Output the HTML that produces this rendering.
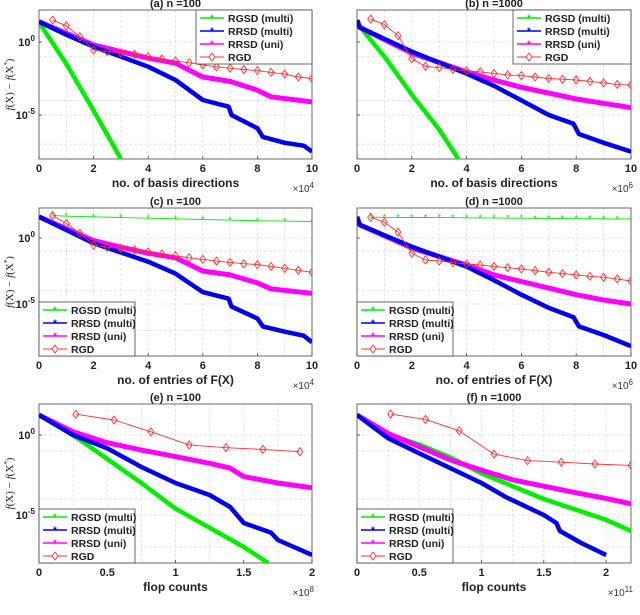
<!DOCTYPE html>
<html><head><meta charset="utf-8"><style>
html,body{margin:0;padding:0;background:#fff;}
svg{display:block;font-family:"Liberation Sans",Arial,sans-serif;}
</style></head><body>
<svg id="chart" width="640" height="615" viewBox="0 0 640 615" xmlns="http://www.w3.org/2000/svg"></svg>
<script>
// ---- data: [x, log10(f(X)-f(X*))] ----
const aGreen=[[0,1.35],[0.3,0.5],[1,-1.5],[2,-4.7],[3,-8]];
const aBlue=[[0,1.39],[1,0.5],[2,-0.32],[3,-1.0],[4,-1.69],[5,-2.6],[6,-3.97],[6.95,-4.43],[7.05,-5.0],[8,-5.9],[8.2,-6.5],[9,-6.9],[9.7,-7.1],[10,-7.5]];
const aMag=[[0,1.39],[1,0.6],[2,-0.2],[3,-0.66],[4,-1.1],[5,-1.45],[6,-2.4],[7,-2.7],[8,-3.3],[8.5,-3.75],[10,-4.1]];
const aRgd=[[0.5,1.5],[1,1.1],[1.5,0.36],[2,-0.55],[2.5,-0.66],[3,-0.75],[3.5,-0.84],[4,-1.0],[4.5,-1.16],[5,-1.3],[5.5,-1.42],[6,-1.57],[6.5,-1.7],[7,-1.8],[7.5,-1.88],[8,-1.96],[8.5,-2.08],[9,-2.2],[9.5,-2.4],[10,-2.5]];

const bGreen=[[0,1.35],[0.3,0.6],[1,-1.0],[2,-3.6],[3,-6.0],[3.7,-8]];
const bBlue=[[0,1.5],[0.1,1.0],[2,-0.66],[4,-2.17],[5,-3.0],[6,-4.0],[7,-5.0],[7.9,-5.6],[8.1,-6.3],[9,-6.9],[10,-7.5]];
const bMag=[[0,1.5],[0.1,1.0],[2,-0.76],[4,-2.05],[5,-2.6],[6,-3.1],[7,-3.5],[8,-3.9],[9,-4.2],[10,-4.5]];
const bRgd=[[0.5,1.57],[1,1.19],[1.5,0.43],[2,-1.16],[2.5,-1.67],[3,-1.75],[3.5,-1.87],[4,-1.97],[4.5,-2.05],[5,-2.15],[5.5,-2.25],[6,-2.3],[6.5,-2.4],[7,-2.5],[7.5,-2.55],[8,-2.6],[8.5,-2.7],[9,-2.8],[9.5,-2.9],[10,-2.95]];

const cGreen=[[0.5,1.7],[1,1.65],[2,1.6],[3,1.55],[4,1.5],[5,1.45],[6,1.4],[7,1.35],[8,1.3],[9,1.28],[10,1.25]];
const cBlue=[[0,1.6],[1,0.6],[2,-0.4],[3,-1.1],[4,-1.8],[5,-2.7],[6,-4.1],[6.95,-4.6],[7.05,-5.2],[8,-6.1],[8.2,-6.7],[9,-7.1],[9.7,-7.4],[10,-7.9]];
const cMag=[[0,1.6],[1,0.7],[2,-0.2],[3,-0.7],[4,-1.15],[5,-1.5],[6,-2.5],[7,-2.8],[8,-3.4],[8.5,-3.85],[10,-4.2]];
const cRgd=[[0.5,1.7],[1,1.1],[1.5,0.36],[2,-0.55],[2.5,-0.7],[3,-0.8],[3.5,-0.9],[4,-1.05],[4.5,-1.2],[5,-1.35],[5.5,-1.5],[6,-1.62],[6.5,-1.75],[7,-1.85],[7.5,-1.95],[8,-2.02],[8.5,-2.15],[9,-2.3],[9.5,-2.45],[10,-2.6]];

const dGreen=[[0.5,1.57],[1,1.56],[1.5,1.56],[2,1.55],[2.5,1.55],[3,1.54],[3.5,1.54],[4,1.53],[4.5,1.52],[5,1.52],[5.5,1.5],[6,1.5],[6.5,1.49],[7,1.48],[7.5,1.47],[8,1.46],[8.5,1.46],[9,1.45],[9.5,1.44],[10,1.44]];
const dBlue=[[0,1.6],[0.1,1.0],[2,-0.66],[4,-2.17],[5,-3.2],[6,-4.3],[7,-5.3],[7.9,-6.0],[8.1,-6.7],[9,-7.35],[10,-8.2]];
const dMag=[[0,1.6],[0.1,1.0],[2,-0.76],[4,-2.05],[5,-2.8],[6,-3.3],[7,-3.8],[8,-4.3],[9,-4.7],[10,-5.0]];
const dRgd=[[0.5,1.57],[1,1.19],[1.5,0.43],[2,-1.16],[2.5,-1.67],[3,-1.75],[3.5,-1.87],[4,-1.97],[4.5,-2.05],[5,-2.15],[5.5,-2.25],[6,-2.35],[6.5,-2.47],[7,-2.6],[7.5,-2.7],[8,-2.8],[8.5,-2.9],[9,-2.98],[9.5,-3.1],[10,-3.26]];

const eGreen=[[0,1.25],[0.15,0.5],[0.3,-0.3],[0.5,-1.5],[0.75,-3.0],[1,-4.6],[1.25,-5.8],[1.5,-7.0],[1.68,-8.0]];
const eBlue=[[0,1.25],[0.25,0],[0.5,-0.83],[0.75,-2.0],[1,-3.0],[1.25,-3.75],[1.4,-4.5],[1.5,-5.5],[1.7,-6.1],[1.75,-6.56],[2,-7.5]];
const eMag=[[0,1.25],[0.25,0.2],[0.5,-0.48],[0.75,-0.94],[1,-1.35],[1.25,-1.77],[1.4,-2.07],[1.5,-2.6],[1.75,-3.0],[2,-3.3]];
const eRgd=[[0.27,1.3],[0.55,0.94],[0.82,0.2],[1.1,-0.62],[1.37,-0.79],[1.64,-0.9],[1.91,-1.04]];

const fGreen=[[0,1.25],[0.25,0.05],[0.5,-0.6],[0.75,-1.4],[1,-2.4],[1.5,-4.0],[2,-5.3],[2.2,-6.0]];
const fBlue=[[0,1.25],[0.25,-0.2],[0.5,-1.15],[1,-3.0],[1.2,-3.9],[1.5,-5.0],[1.6,-5.5],[1.63,-6.0],[1.8,-6.75],[2,-7.5]];
const fMag=[[0,1.25],[0.25,0.1],[0.5,-0.73],[0.75,-1.56],[1,-2.19],[1.25,-2.8],[1.5,-3.2],[1.75,-3.6],[2,-3.96],[2.2,-4.3]];
const fRgd=[[0.27,1.31],[0.55,0.98],[0.82,0.27],[1.1,-1.19],[1.37,-1.6],[1.64,-1.7],[1.91,-1.81],[2.2,-1.9]];

const ticksA=[0,2,4,6,8,10];
const ticksE=[0,0.5,1,1.5,2];
const legendLabels=["RGSD (multi)","RRSD (multi)","RRSD (uni)","RGD"];

const NS="http://www.w3.org/2000/svg";
const svg=document.getElementById('chart');
function mk(tag,attrs,parent){const e=document.createElementNS(NS,tag);for(const k in attrs)e.setAttribute(k,attrs[k]);(parent||svg).appendChild(e);return e;}

const rows=[{top:10,bot:159,lt:2.19,lb:-8.01},{top:208,bot:356,lt:2.27,lb:-8.94},{top:404,bot:563,lt:1.94,lb:-8.0}];
const cols=[{l:39,r:312},{l:357,r:631}];
const panels=[
 {id:'a',title:'(a)  n =100',row:0,col:0,xmax:10,ticks:ticksA,exp:'4',xl:'no. of basis directions',s:[aGreen,aBlue,aMag,aRgd],leg:'tr',gThin:false},
 {id:'b',title:'(b)  n =1000',row:0,col:1,xmax:10,ticks:ticksA,exp:'6',xl:'no. of basis directions',s:[bGreen,bBlue,bMag,bRgd],leg:'tr',gThin:false},
 {id:'c',title:'(c) n =100',row:1,col:0,xmax:10,ticks:ticksA,exp:'4',xl:'no. of entries of F(X)',s:[cGreen,cBlue,cMag,cRgd],leg:'bl',gThin:true},
 {id:'d',title:'(d) n =1000',row:1,col:1,xmax:10,ticks:ticksA,exp:'6',xl:'no. of entries of F(X)',s:[dGreen,dBlue,dMag,dRgd],leg:'bl',gThin:true},
 {id:'e',title:'(e) n =100',row:2,col:0,xmax:2,ticks:ticksE,exp:'8',xl:'flop counts',s:[eGreen,eBlue,eMag,eRgd],leg:'bl',gThin:false},
 {id:'f',title:'(f) n =1000',row:2,col:1,xmax:2.2,ticks:ticksE,exp:'11',xl:'flop counts',s:[fGreen,fBlue,fMag,fRgd],leg:'bl',gThin:false}
];
const colors=['#00ee00','#0000ee','#ff00ff','#ff3030'];

panels.forEach(p=>{
 const R=rows[p.row],C=cols[p.col];
 const g=mk('g',{});
 
 
 const X=v=>C.l+(v/p.xmax)*(C.r-C.l);
 const Y=v=>R.top+(R.lt-v)/(R.lt-R.lb)*(R.bot-R.top);
 const clipId='clip'+p.id;
 const cp=mk('clipPath',{id:clipId},g);mk('rect',{x:C.l,y:R.top,width:C.r-C.l,height:R.bot-R.top},cp);
 const step=p.ticks[1]-p.ticks[0];
 for(let v=step/2;v<p.xmax;v+=step/2){const gl=mk('line',{x1:X(v),x2:X(v),y1:R.top,y2:R.bot,stroke:'#dcdcdc','stroke-width':0.8,'stroke-dasharray':'3,2'},g);}
 [0,-1,-4,-5,-7].forEach(v=>{const gl=mk('line',{x1:C.l,x2:C.r,y1:Y(v),y2:Y(v),stroke:'#dcdcdc','stroke-width':0.8,'stroke-dasharray':'3,2'},g);});
 const box=mk('rect',{x:C.l,y:R.top,width:C.r-C.l,height:R.bot-R.top,fill:'none',stroke:'#444','stroke-width':0.8},g);
 
 const t=mk('text',{x:(C.l+C.r)/2,y:R.top-3,'text-anchor':'middle','font-size':11,'font-weight':'bold',fill:'#222'},g);t.textContent=p.title;
 
 p.ticks.forEach(v=>{
  mk('line',{x1:X(v),x2:X(v),y1:R.bot,y2:R.bot-3,stroke:'#444','stroke-width':0.8},g);
  const tl=mk('text',{x:X(v),y:R.bot+13,'text-anchor':'middle','font-size':11,'font-weight':'bold',fill:'#222'},g);tl.textContent=String(v);
  
 });
 const xl=mk('text',{x:(C.l+C.r)/2,y:R.bot+28,'text-anchor':'middle','font-size':12,'font-weight':'bold',fill:'#222'},g);xl.textContent=p.xl;
 
 const ex=mk('text',{x:C.r+2,y:R.bot+33,'text-anchor':'end','font-size':10,fill:'#333'},g);
 
 ex.innerHTML='×10<tspan dy="-4" font-size="8">'+p.exp+'</tspan>';
 [0,-5].forEach(v=>{
  mk('line',{x1:C.l,x2:C.l+3,y1:Y(v),y2:Y(v),stroke:'#444','stroke-width':0.8},g);
  if(p.col===0){const yl=mk('text',{x:C.l-4,y:Y(v)+4,'text-anchor':'end','font-size':11,'font-weight':'bold',fill:'#222'},g);
   
   yl.innerHTML='10<tspan dy="-5" font-size="8">'+v+'</tspan>';}
 });
 if(p.col===0){const ya=mk('text',{x:0,y:0,'text-anchor':'middle','font-size':11,'font-style':'italic',fill:'#222',transform:'translate(13,'+((R.top+R.bot)/2)+') rotate(-90)','font-family':'Liberation Serif,serif'},g);
  
  ya.innerHTML='f<tspan font-style="normal">(X) − </tspan>f<tspan font-style="normal">(X</tspan><tspan dy="-4" font-size="7">*</tspan><tspan dy="4" font-style="normal">)</tspan>';}
 const sg=mk('g',{'clip-path':'url(#'+clipId+')'},g);
 const order=[0,2,1,3];
 order.forEach(i=>{
  const d=p.s[i];const pts=d.map(q=>X(q[0]).toFixed(1)+','+Y(q[1]).toFixed(1)).join(' ');
  let w=(i===3)?0.9:(i===0&&p.gThin)?0.9:4.5;if(i===2&&w>1)w=5;
  const pl=mk('polyline',{points:pts,fill:'none',stroke:colors[i],'stroke-width':w,'stroke-linejoin':'round'},sg);
  
  
  if(i===3){d.forEach(q=>{const cx=X(q[0]),cy=Y(q[1]);const m=mk('polygon',{points:`${cx},${cy-4} ${cx+3},${cy} ${cx},${cy+4} ${cx-3},${cy}`,fill:'none',stroke:colors[3],'stroke-width':0.9},sg);
   });}
  if(i===0&&p.gThin){d.forEach(q=>{const cx=X(q[0]),cy=Y(q[1]);const m=mk('text',{x:cx,y:cy+3,'text-anchor':'middle','font-size':9,fill:colors[0]},sg);m.textContent='*';
   });}
 });
 const lw=p.col===0?(p.leg==='tr'?116:96):(p.leg==='tr'?118:96);
 const lh=54;
 const lx=p.leg==='tr'?C.r-lw:C.l, ly=p.leg==='tr'?R.top:R.bot-lh;
 const lg=mk('g',{},g);
 mk('rect',{x:lx,y:ly,width:lw,height:lh,fill:'#fff',stroke:'#444','stroke-width':0.8},lg);
 legendLabels.forEach((lab,i)=>{
  const yy=ly+8+i*13;
  const e=mk('g',{},lg);
  mk('line',{x1:lx+4,x2:lx+28,y1:yy,y2:yy,stroke:colors[i],'stroke-width':i===3?0.9:1.5},e);
  if(i===3)mk('polygon',{points:`${lx+16},${yy-4} ${lx+19},${yy} ${lx+16},${yy+4} ${lx+13},${yy}`,fill:'#fff',stroke:colors[3],'stroke-width':0.9},e);
  else{const s=mk('text',{x:lx+16,y:yy+3.5,'text-anchor':'middle','font-size':10,fill:colors[i],'font-weight':'bold'},e);s.textContent='*';}
  const tx=mk('text',{x:lx+32,y:yy+4,'font-size':10.5,'font-weight':'bold',fill:'#222'},e);tx.textContent=lab;
 });
});
</script>
</body></html>
